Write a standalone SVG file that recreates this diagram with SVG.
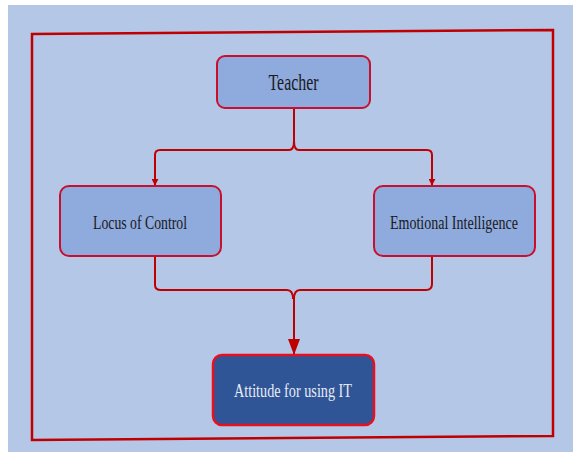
<svg xmlns="http://www.w3.org/2000/svg" width="573" height="452" viewBox="0 0 573 452">
<defs>
<style>
.box{fill:#8FAADC;stroke:#C8102E;stroke-width:2}
.dark{fill:#2F5597;stroke:#E8101E;stroke-width:2.5}
.lbl{font-family:"Liberation Serif",serif;font-size:19px;fill:#1a1a22;text-anchor:middle}
.conn{fill:none;stroke:#C00000;stroke-width:2}
</style>
<marker id="sm" viewBox="0 0 10 10" refX="9" refY="5" markerWidth="3.5" markerHeight="3.5" orient="auto"><path d="M0,0 L10,5 L0,10 z" fill="#C00000"/></marker>
<marker id="big" viewBox="0 0 16 12" refX="15" refY="6" markerWidth="16" markerHeight="12" markerUnits="userSpaceOnUse" orient="auto"><path d="M0,0 L16,6 L0,12 z" fill="#C00000"/></marker>
</defs>
<rect width="573" height="452" fill="#FFFFFF"/>
<rect x="8" y="5" width="565" height="447" fill="#B4C7E7"/>
<path d="M32,34 L553,30 L553,436 L32,440 Z" fill="none" stroke="#C00000" stroke-width="2.5"/>
<g id="connectors">
<path class="conn" d="M294,108 L294,141 Q294,150 289,150 L160,150 Q155,150 155,155 L155,185" marker-end="url(#sm)"/>
<path class="conn" d="M294,141 Q294,150 299,150 L427,150 Q432,150 432,155 L432,185" marker-end="url(#sm)"/>
<path class="conn" d="M155,257 L155,285 Q155,290 161,290 L287,290 Q293,290 293,299"/>
<path class="conn" d="M432,257 L432,284 Q432,290 426,290 L300,290 Q294,290 294,299"/>
<path class="conn" d="M294,297 L294,354" stroke-width="3" marker-end="url(#big)"/>
</g>
<g id="teacher">
<rect class="box" x="217" y="56" width="153" height="52" rx="8"/>
<text class="lbl" x="293.5" y="90" style="font-size:23px" textLength="50" lengthAdjust="spacingAndGlyphs">Teacher</text>
</g>
<g id="locus">
<rect class="box" x="60" y="186" width="161" height="70" rx="9"/>
<text class="lbl" x="140" y="229" textLength="94" lengthAdjust="spacingAndGlyphs">Locus of Control</text>
</g>
<g id="emotional">
<rect class="box" x="374" y="186" width="161" height="70" rx="9"/>
<text class="lbl" x="454" y="229" textLength="128" lengthAdjust="spacingAndGlyphs">Emotional Intelligence</text>
</g>
<g id="attitude">
<rect class="dark" x="213" y="355" width="161" height="70" rx="9"/>
<text class="lbl" x="293" y="397" style="fill:#E8ECF5" textLength="118" lengthAdjust="spacingAndGlyphs">Attitude for using IT</text>
</g>
</svg>
